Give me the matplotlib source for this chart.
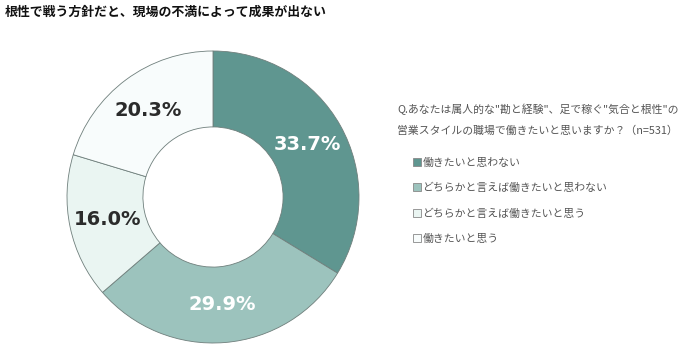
import numpy as np
import matplotlib.pyplot as plt

plt.rcParams['font.family'] = ['Noto Sans CJK JP', 'DejaVu Sans']

# Data
labels = ['働きたいと思わない', 'どちらかと言えば働きたいと思わない',
          'どちらかと言えば働きたいと思う', '働きたいと思う']
values = [33.7, 29.9, 16.0, 20.3]
colors = ['#5f9690', '#9cc3bd', '#eaf5f2', '#f8fcfc']
text_colors = ['white', 'white', '#2b2b2b', '#2b2b2b']
title = '根性で戦う方針だと、現場の不満によって成果が出ない'
question = 'Q.あなたは属人的な"勘と経験"、足で稼ぐ"気合と根性"の\n営業スタイルの職場で働きたいと思いますか？（n=531）'

fig = plt.figure(figsize=(7, 3.58), dpi=100)

# Pie axes: center (213, 197) px, radius 146 px
ax = fig.add_axes([(213 - 146) / 700, (358 - 197 - 146) / 358, 292 / 700, 292 / 358])
wedges, _ = ax.pie(values, colors=colors, startangle=90, counterclock=False,
                   radius=1.0,
                   wedgeprops=dict(width=0.52, edgecolor='#6f7f7c', linewidth=0.6))
ax.set_xlim(-1, 1)
ax.set_ylim(-1, 1)
ax.set_aspect('equal')
ax.axis('off')

# Percent labels at ring middle
for w, v, tc in zip(wedges, values, text_colors):
    mid = np.deg2rad((w.theta1 + w.theta2) / 2)
    r = 0.74
    ax.text(r * np.cos(mid), r * np.sin(mid), f'{v:.1f}%', ha='center', va='center',
            fontsize=14, fontweight='bold', color=tc, family='DejaVu Sans')

fig.text(5 / 700, 1 - 12 / 358, title, fontsize=9.3, fontweight='bold',
         va='center', ha='left', color='#111111')

fig.text(397 / 700, 1 - 120 / 358, question, fontsize=7.8, color='#555555',
         va='center', ha='left', linespacing=2.25)

leg = fig.legend(wedges, labels, loc='upper left',
                 bbox_to_anchor=(403 / 700, 1 - 148 / 358), frameon=False,
                 fontsize=7.8, labelspacing=1.38, handlelength=0.75,
                 handleheight=0.75, handletextpad=0.15)
for t in leg.get_texts():
    t.set_color('#555555')
for h in leg.legend_handles:
    h.set_edgecolor('#888888')
    h.set_linewidth(0.6)

fig.savefig('out.png', dpi=100)
